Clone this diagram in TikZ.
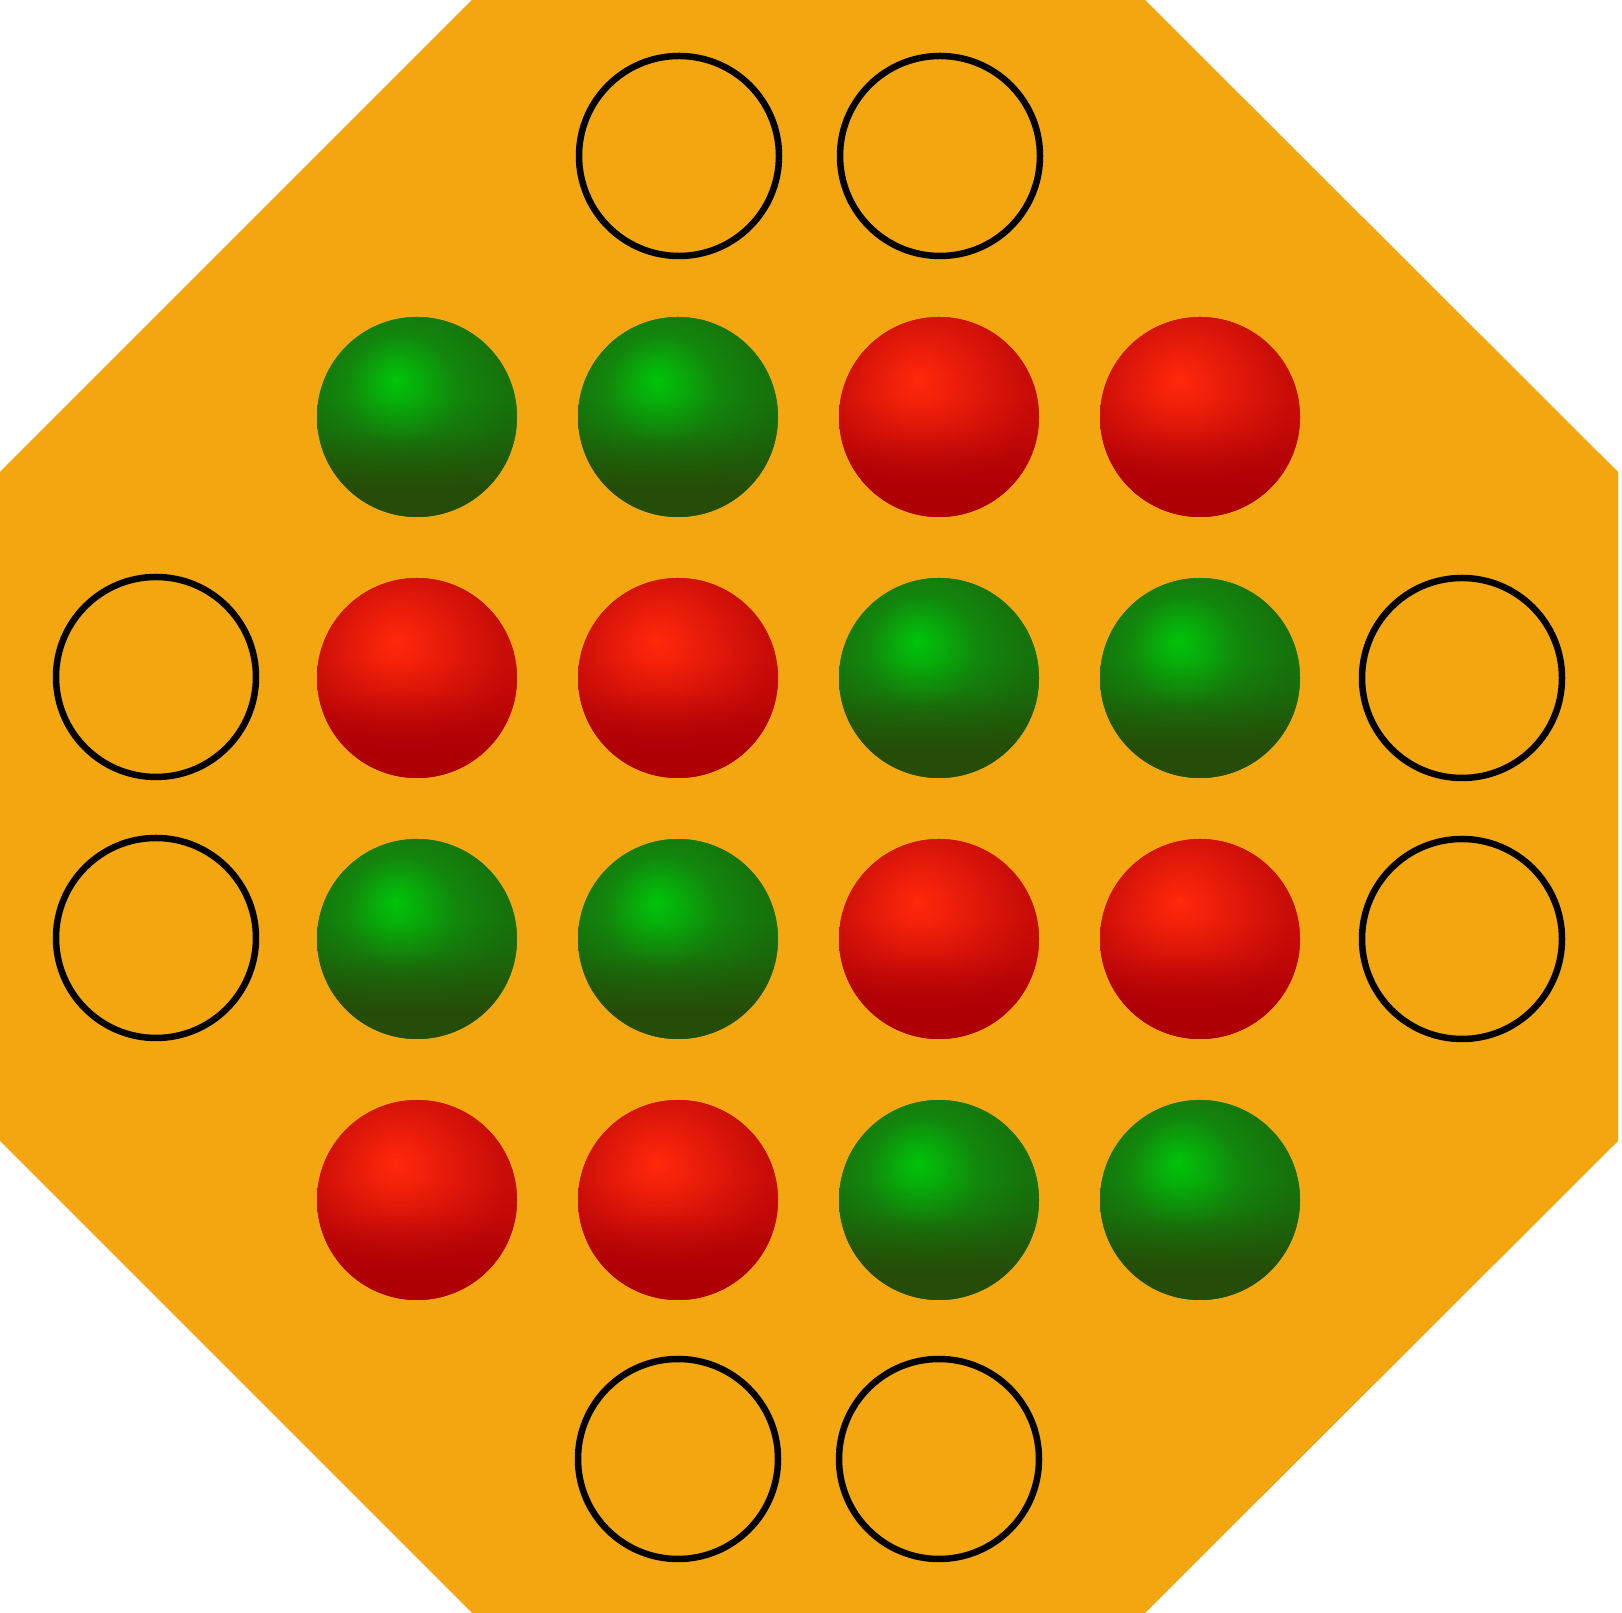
\documentclass[tikz,border=0pt]{standalone}
\usetikzlibrary{fadings}
\definecolor{board}{RGB}{243,166,16}
\definecolor{gbright}{RGB}{0,196,10}
\definecolor{gbright2}{RGB}{8,170,11}
\definecolor{gmid}{RGB}{18,134,12}
\definecolor{gedge}{RGB}{22,114,12}
\definecolor{gdark}{RGB}{38,77,8}
\definecolor{rbright}{RGB}{255,40,10}
\definecolor{rbright2}{RGB}{242,33,10}
\definecolor{rmid}{RGB}{224,24,10}
\definecolor{redge}{RGB}{200,12,8}
\definecolor{rdark}{RGB}{175,0,6}
% ball edge = 25bp in TikZ shading coordinates
\pgfdeclareradialshading{gballshade}{\pgfpoint{-5.5bp}{9.5bp}}{color(0bp)=(gbright); color(6bp)=(gbright2); color(14bp)=(gmid); color(25bp)=(gedge); color(50bp)=(gedge)}
\pgfdeclareradialshading{rballshade}{\pgfpoint{-5.5bp}{9.5bp}}{color(0bp)=(rbright); color(6bp)=(rbright2); color(14bp)=(rmid); color(25bp)=(redge); color(50bp)=(redge)}
\pgfdeclareverticalshading{balldarkshade}{100bp}{color(0bp)=(white); color(32bp)=(white); color(40bp)=(black!40); color(47bp)=(black!82); color(54bp)=(black); color(100bp)=(black)}
\pgfdeclarefading{balldark}{\pgfuseshading{balldarkshade}}
\tikzset{
  hole/.style={draw=black, line width=6.5pt},
  greenball/.pic={
    \fill[gedge] (0,0) circle[radius=100pt];
    \shade[shading=gballshade] (0,0) circle[radius=100pt];
    \fill[gdark, path fading=balldark] (0,0) circle[radius=100pt];
  },
  redball/.pic={
    \fill[redge] (0,0) circle[radius=100pt];
    \shade[shading=rballshade] (0,0) circle[radius=100pt];
    \fill[rdark, path fading=balldark] (0,0) circle[radius=100pt];
  }
}
\begin{document}
\begin{tikzpicture}[x=1pt,y=1pt]
\useasboundingbox (0,0) rectangle (1622,1613);
\fill[board] (472,1613) -- (1145,1613) -- (1618,1141) -- (1618,472) -- (1145,0) -- (472,0) -- (0,472) -- (0,1141) -- cycle;
% holes
\coordinate (h1) at (679,1457);
\coordinate (h2) at (940,1457);
\coordinate (h3) at (156,936);
\coordinate (h4) at (1462,935);
\coordinate (h5) at (156,675);
\coordinate (h6) at (1462,674);
\coordinate (h7) at (678,154);
\coordinate (h8) at (939,154);
\foreach \h in {h1,h2,h3,h4,h5,h6,h7,h8}
  \draw[hole] (\h) circle[radius=100pt];
% balls
\pic (g1) at (417,1196) {greenball};
\pic (g2) at (678,1196) {greenball};
\pic (r1) at (939,1196) {redball};
\pic (r2) at (1200,1196) {redball};
\pic (r3) at (417,935) {redball};
\pic (r4) at (678,935) {redball};
\pic (g3) at (939,935) {greenball};
\pic (g4) at (1200,935) {greenball};
\pic (g5) at (417,674) {greenball};
\pic (g6) at (678,674) {greenball};
\pic (r5) at (939,674) {redball};
\pic (r6) at (1200,674) {redball};
\pic (r7) at (417,413) {redball};
\pic (r8) at (678,413) {redball};
\pic (g7) at (939,413) {greenball};
\pic (g8) at (1200,413) {greenball};
\end{tikzpicture}
\end{document}
